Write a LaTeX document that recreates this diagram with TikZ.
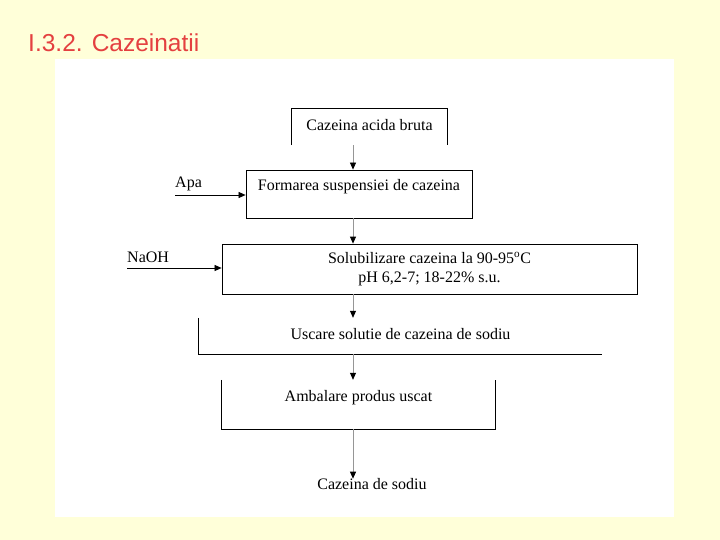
\documentclass[tikz,border=0pt]{standalone}
\usepackage{fontspec}
\setmainfont{Liberation Serif}
\newfontfamily\titlefont{Liberation Sans}
\usetikzlibrary{arrows.meta}
\definecolor{bgyellow}{RGB}{255,255,217}
\definecolor{titlered}{RGB}{228,64,64}
\definecolor{flowgray}{RGB}{150,150,150}
\begin{document}
\begin{tikzpicture}[x=1pt,y=-1pt,
  txt/.style={font=\fontsize{16}{19}\selectfont, inner sep=0pt},
  boxnode/.style={txt, minimum width=#1, align=center},
  flow/.style={draw=flowgray, line width=0.8pt, -{Triangle[black,width=6pt,length=7pt]}},
  feed/.style={draw=black, line width=0.7pt, -{Triangle[black,width=6pt,length=7pt]}},
  side/.style={draw=black, line width=0.8pt}]
\useasboundingbox (0,0) rectangle (720,540);
\fill[bgyellow] (0,0) rectangle (720,540);
\fill[white] (55,59) rectangle (674,517);
\node[font=\titlefont\fontsize{24.5}{28}\selectfont, text=titlered, anchor=base west, inner sep=0pt] (title) at (28,52) {I.3.2. Cazeinatii};

\coordinate (ax) at (353,0);

% box 1
\node[boxnode=155, text height=22pt, text depth=14pt] (b1) at (369.5,127) {Cazeina acida bruta};
\draw[side] (b1.south west) -- (b1.north west) -- (b1.north east) -- (b1.south east);

% box 2
\node[boxnode=226, text height=21pt, text depth=27pt, draw, line width=0.8pt] (b2) at (359,194) {Formarea suspensiei de cazeina};

% box 3
\node[boxnode=415, minimum height=50pt, draw, line width=0.8pt] (b3) at (429.5,269) {Solubilizare cazeina la 90-95\textsuperscript{o}C\\pH 6,2-7; 18-22\% s.u.};

% box 4
\node[boxnode=403, text height=21pt, text depth=15pt] (b4) at (400.5,336) {Uscare solutie de cazeina de sodiu};
\draw[side] (b4.north west) -- (b4.south west) -- (b4.south east);

% box 5
\node[boxnode=273, text height=21pt, text depth=28pt] (b5) at (358.5,404.5) {Ambalare produs uscat};
\draw[side] (b5.north west) -- (b5.south west) -- (b5.south east) -- (b5.north east);

% end product
\node[txt, anchor=base] (prod) at (372,489) {Cazeina de sodiu};

% inputs
\node[txt, anchor=base west] (apa) at (175,188) {Apa};
\coordinate (apain) at (175,195);
\node[txt, anchor=base west] (naoh) at (127,262) {NaOH};
\coordinate (naohin) at (127,268);

\draw[feed] (apain) -- (apain -| b2.west);
\draw[feed] (naohin) -- (naohin -| b3.west);

% main flow
\draw[flow] (b1.south -| ax) -- (b2.north -| ax);
\draw[flow] (b2.south -| ax) -- (b3.north -| ax);
\draw[flow] (b3.south -| ax) -- (b4.north -| ax);
\draw[flow] (b4.south -| ax) -- (b5.north -| ax);
\draw[flow] (b5.south -| ax) -- ([yshift=-1pt]prod.north -| ax);
\end{tikzpicture}
\end{document}
